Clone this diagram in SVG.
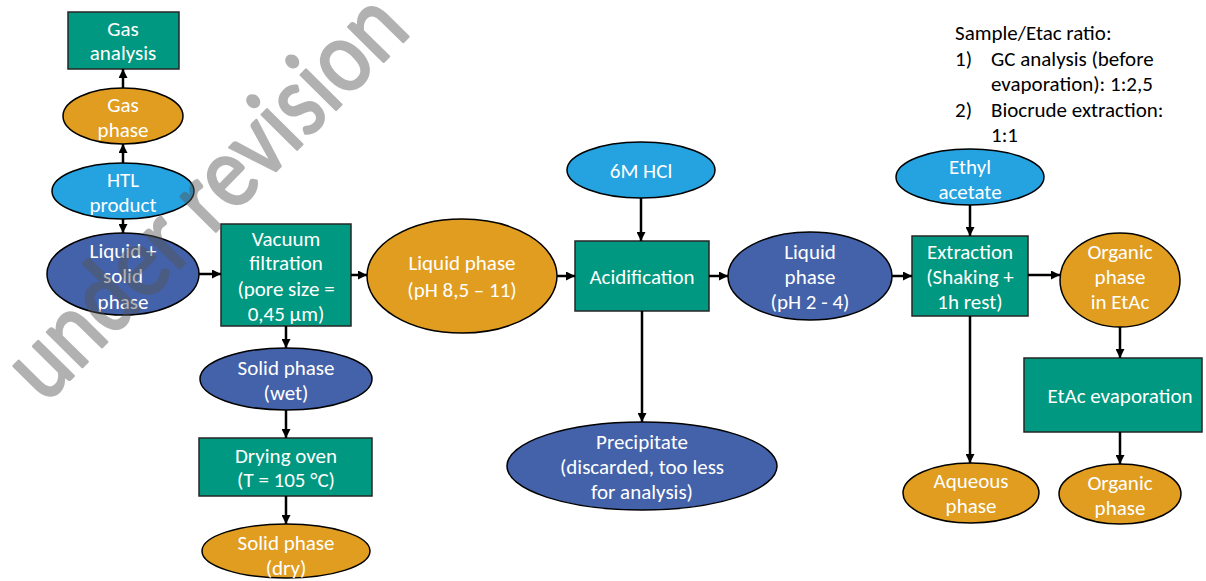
<svg xmlns="http://www.w3.org/2000/svg" width="1206" height="581" viewBox="0 0 1206 581">
<defs>
<marker id="ah" viewBox="0 0 10 10" refX="10" refY="5" markerWidth="9" markerHeight="9" markerUnits="userSpaceOnUse" orient="auto">
<path d="M0,0 L10,5 L0,10 z" fill="#000"/>
</marker>
</defs>
<style>
.box{fill:#009880;stroke:#262626;stroke-width:1.5}
.org{fill:#E09D20;stroke:#000;stroke-width:1.5}
.dbl{fill:#4462A9;stroke:#000;stroke-width:1.5}
.lbl{fill:#25A2E0;stroke:#000;stroke-width:1.5}
.t{font-family:Carlito,Lato,"Liberation Sans",sans-serif;font-size:21px;fill:#fff;text-anchor:middle}
.n{font-family:Carlito,Lato,"Liberation Sans",sans-serif;font-size:21px;fill:#000}
.c line{stroke:#000;stroke-width:2.5;marker-end:url(#ah)}
</style>
<rect width="1206" height="581" fill="#fff"/>

<g id="gas-analysis"><rect class="box" x="68" y="12" width="111" height="57"/><text class="t" x="123" y="36">Gas</text><text class="t" x="123" y="60">analysis</text></g>
<g id="gas-phase"><ellipse class="org" cx="123" cy="116" rx="60" ry="28"/><text class="t" x="123" y="112">Gas</text><text class="t" x="123" y="137">phase</text></g>
<g id="htl-product"><ellipse class="lbl" cx="123" cy="191" rx="71" ry="28"/><text class="t" x="123" y="187">HTL</text><text class="t" x="123" y="212">product</text></g>
<g id="liquid-solid"><ellipse class="dbl" cx="123" cy="274" rx="76" ry="41"/><text class="t" x="123" y="258">Liquid +</text><text class="t" x="123" y="283">solid</text><text class="t" x="123" y="309">phase</text></g>
<g id="vacuum-filtration"><rect class="box" x="221" y="224" width="130" height="102"/><text class="t" x="286" y="246">Vacuum</text><text class="t" x="286" y="270">filtration</text><text class="t" x="286" y="296">(pore size =</text><text class="t" x="286" y="321">0,45 µm)</text></g>
<g id="solid-wet"><ellipse class="dbl" cx="286" cy="379" rx="86" ry="31"/><text class="t" x="286" y="375">Solid phase</text><text class="t" x="286" y="400">(wet)</text></g>
<g id="drying-oven"><rect class="box" x="199" y="438" width="173" height="58"/><text class="t" x="286" y="463">Drying oven</text><text class="t" x="286" y="487">(T = 105 °C)</text></g>
<g id="solid-dry"><ellipse class="org" cx="286" cy="551" rx="84" ry="27"/><text class="t" x="286" y="550">Solid phase</text><text class="t" x="286" y="575">(dry)</text></g>
<g id="liquid-phase-basic"><ellipse class="org" cx="462" cy="276" rx="95" ry="57"/><text class="t" x="462" y="270">Liquid phase</text><text class="t" x="462" y="297">(pH 8,5 – 11)</text></g>
<g id="hcl"><ellipse class="lbl" cx="641" cy="170" rx="74" ry="28"/><text class="t" x="641" y="178">6M HCl</text></g>
<g id="acidification"><rect class="box" x="575" y="241" width="134" height="70"/><text class="t" x="642" y="284">Acidification</text></g>
<g id="precipitate"><ellipse class="dbl" cx="642" cy="466" rx="135" ry="44"/><text class="t" x="642" y="449">Precipitate</text><text class="t" x="642" y="474">(discarded, too less</text><text class="t" x="642" y="499">for analysis)</text></g>
<g id="liquid-phase-acidic"><ellipse class="dbl" cx="810" cy="276" rx="82" ry="44"/><text class="t" x="810" y="259">Liquid</text><text class="t" x="810" y="284">phase</text><text class="t" x="810" y="309">(pH 2 - 4)</text></g>
<g id="ethyl-acetate"><ellipse class="lbl" cx="970" cy="177" rx="74" ry="28"/><text class="t" x="970" y="174">Ethyl</text><text class="t" x="970" y="199">acetate</text></g>
<g id="extraction"><rect class="box" x="912" y="236" width="116" height="80"/><text class="t" x="970" y="259">Extraction</text><text class="t" x="970" y="284">(Shaking +</text><text class="t" x="970" y="309">1h rest)</text></g>
<g id="organic-etac"><ellipse class="org" cx="1120" cy="280" rx="60" ry="47"/><text class="t" x="1120" y="259">Organic</text><text class="t" x="1120" y="284">phase</text><text class="t" x="1120" y="309">in EtAc</text></g>
<g id="aqueous-phase"><ellipse class="org" cx="971" cy="493" rx="68" ry="30"/><text class="t" x="971" y="488">Aqueous</text><text class="t" x="971" y="513">phase</text></g>
<g id="etac-evaporation"><rect class="box" x="1024" y="358" width="178" height="74"/><text class="t" x="1120" y="403">EtAc evaporation</text></g>
<g id="organic-phase"><ellipse class="org" cx="1120" cy="494" rx="61" ry="30"/><text class="t" x="1120" y="490">Organic</text><text class="t" x="1120" y="515">phase</text></g>

<g id="note"><text class="n" x="955" y="40">Sample/Etac ratio:</text><text class="n" x="955" y="66">1)</text><text class="n" x="991" y="66">GC analysis (before</text><text class="n" x="991" y="91">evaporation): 1:2,5</text><text class="n" x="955" y="117">2)</text><text class="n" x="991" y="117">Biocrude extraction:</text><text class="n" x="991" y="142">1:1</text></g>

<g id="connectors" class="c">
<line x1="123" y1="88" x2="123" y2="69"/>
<line x1="123" y1="163" x2="123" y2="144"/>
<line x1="123" y1="219" x2="123" y2="233"/>
<line x1="199" y1="274" x2="221" y2="274"/>
<line x1="351" y1="275" x2="367" y2="275"/>
<line x1="286" y1="326" x2="286" y2="348"/>
<line x1="286" y1="410" x2="286" y2="438"/>
<line x1="286" y1="496" x2="286" y2="524"/>
<line x1="557" y1="276" x2="575" y2="276"/>
<line x1="641" y1="198" x2="641" y2="241"/>
<line x1="642" y1="311" x2="642" y2="422"/>
<line x1="709" y1="276" x2="728" y2="276"/>
<line x1="892" y1="276" x2="912" y2="276"/>
<line x1="970" y1="205" x2="970" y2="236"/>
<line x1="1028" y1="275" x2="1060" y2="275"/>
<line x1="970" y1="316" x2="970" y2="463"/>
<line x1="1120" y1="327" x2="1120" y2="358"/>
<line x1="1120" y1="432" x2="1120" y2="464"/>
</g>

<text x="0" y="0" transform="translate(45,405) rotate(-45.4)" font-family="Carlito,Lato,'Liberation Sans',sans-serif" font-size="104" fill="#555" stroke="#555" stroke-width="2.5" stroke-linejoin="round" opacity="0.45" textLength="523" lengthAdjust="spacingAndGlyphs">under revision</text>
</svg>
